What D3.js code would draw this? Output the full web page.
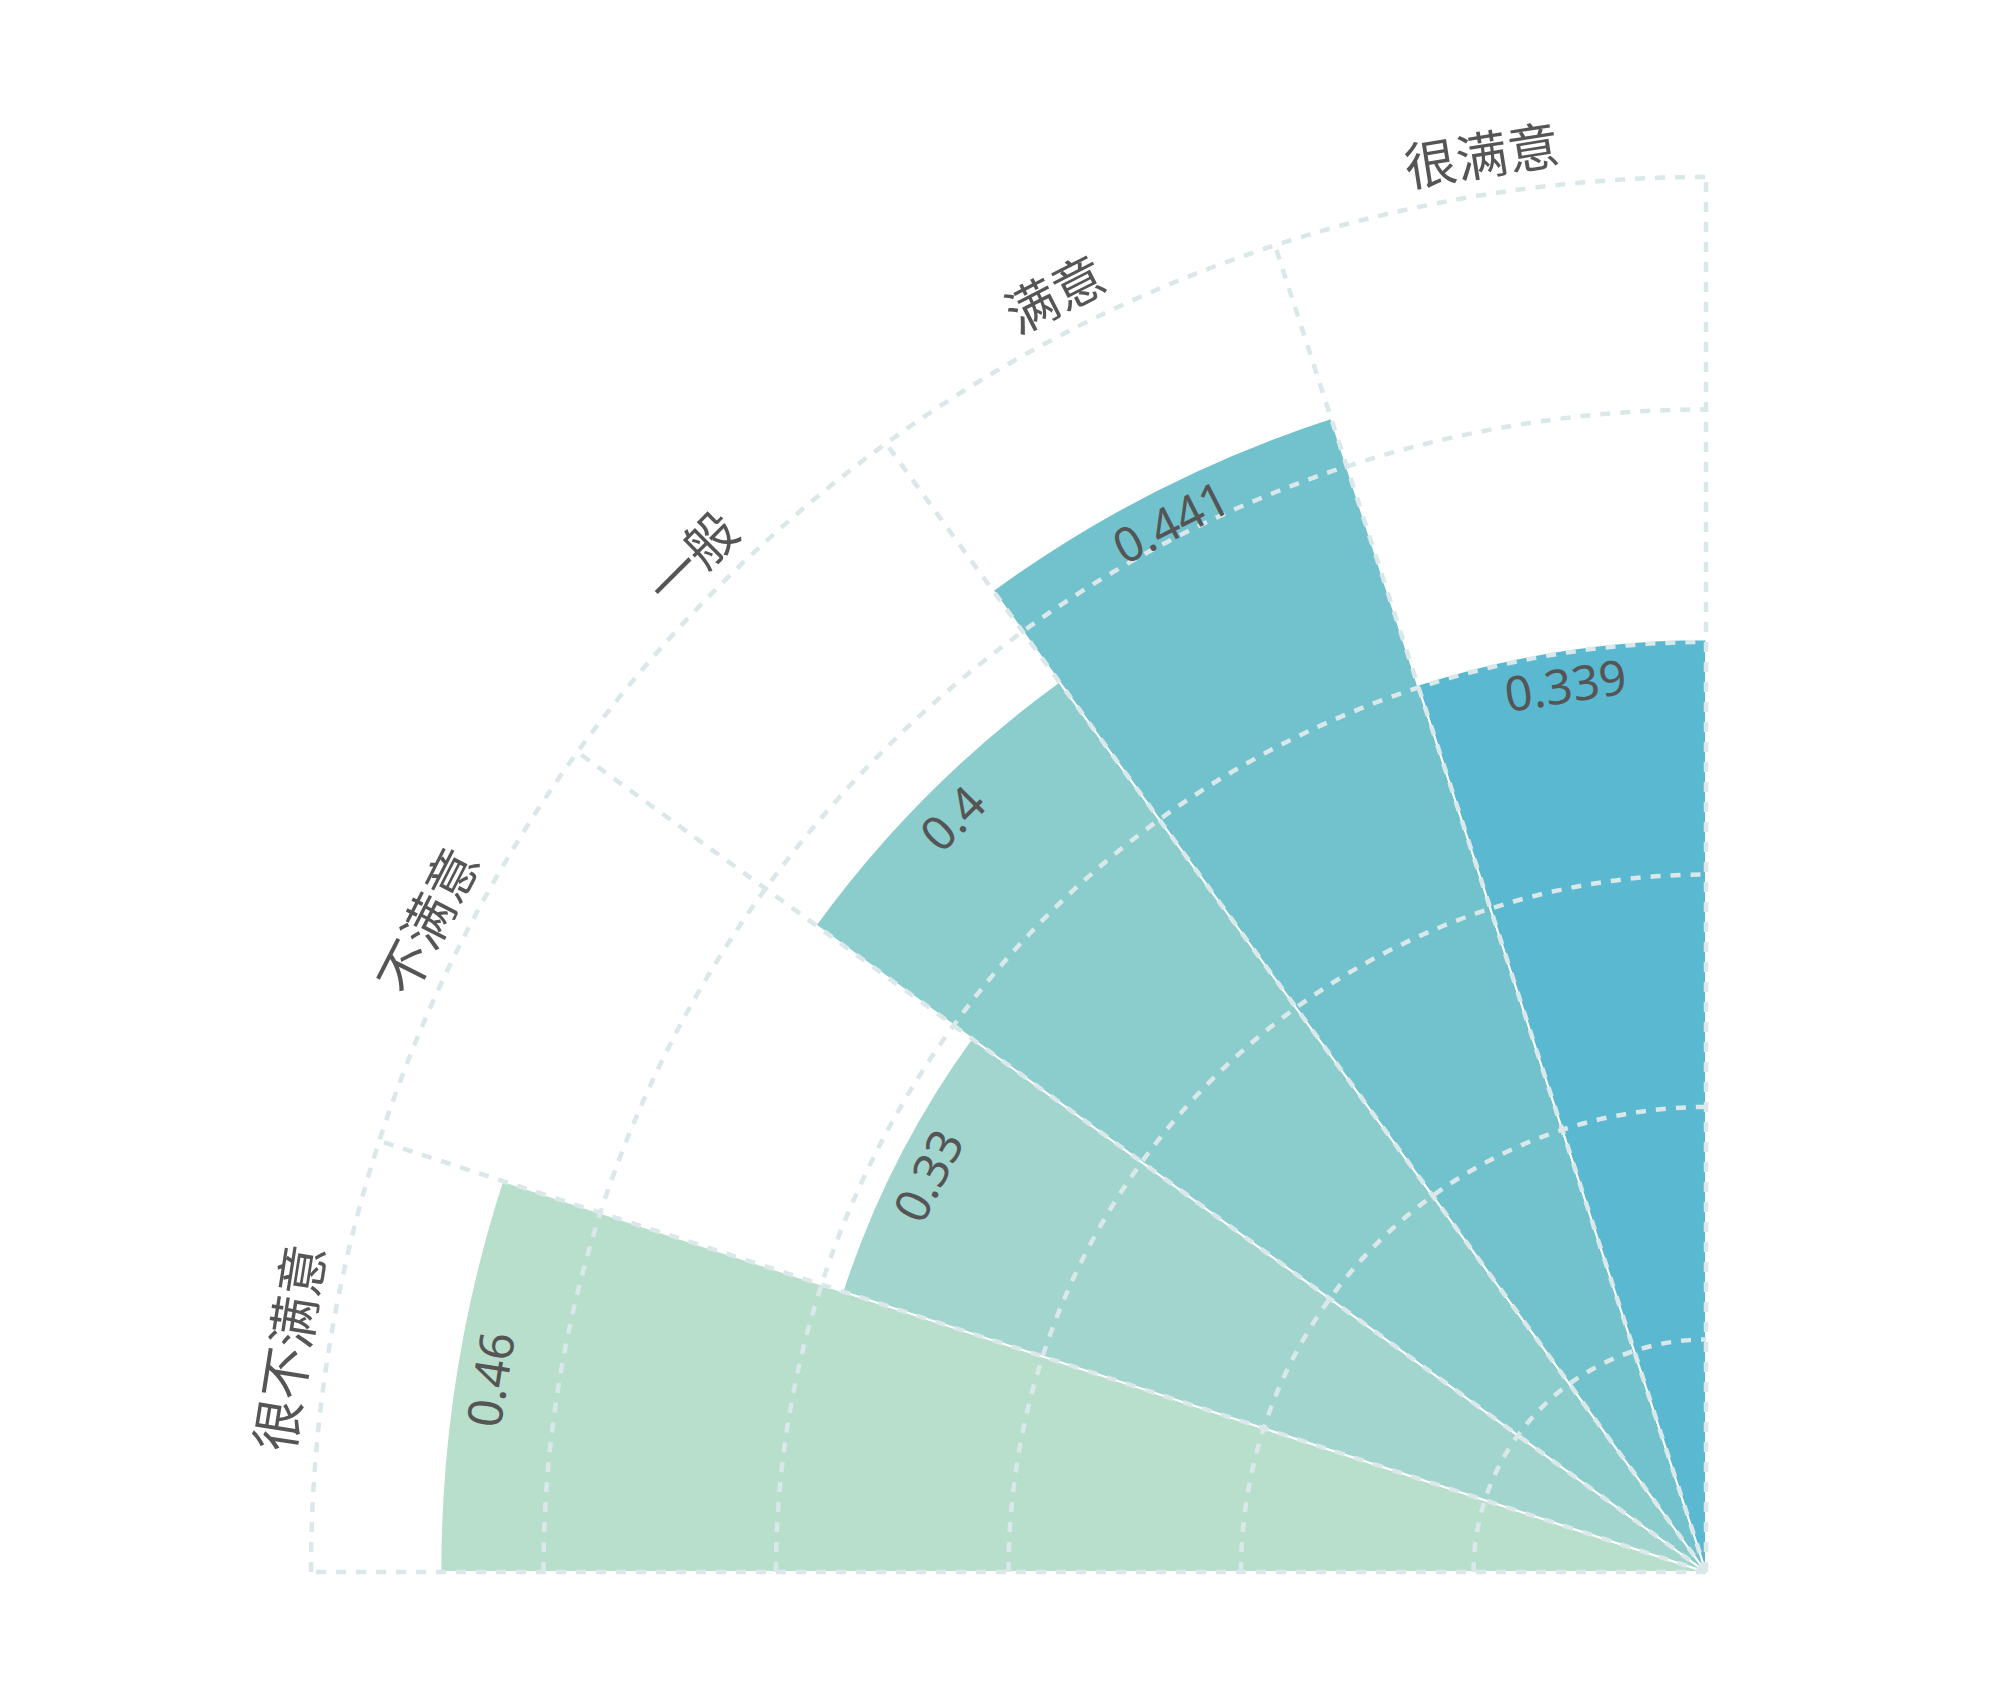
<!DOCTYPE html>
<html lang="zh">
<head>
  <meta charset="UTF-8">
  <title>满意度玫瑰图</title>
  <script src="https://d3js.org/d3.v7.min.js"></script>
  <style>
    body { margin: 0; background: #fff; }
    svg { display: block; }
    text { fill: #555; }
    .cat { font-family: "Noto Sans CJK SC", sans-serif; }
    .val { font-family: "Noto Sans", "Noto Sans CJK SC", sans-serif; }
    .grid { fill: none; stroke: #dae8ea; stroke-width: 4.5; stroke-dasharray: 10 10; }
    .bar { stroke: #fff; stroke-width: 2; }
  </style>
</head>
<body>
  <svg width="2000" height="1698"></svg>

  <script>
    // data
    const categories = ["很不满意", "不满意", "一般", "满意", "很满意"];
    const values     = [0.46, 0.33, 0.4, 0.441, 0.339];
    const colors     = ["#b8dfcc", "#a2d5cd", "#8bcccc", "#72c2cd", "#5ab8d1"];
    const rMax       = 0.507;   // radial axis extent
    const ringCount  = 6;

    const svg = d3.select("svg"),
          cx = 1706, cy = 1572,
          R  = 1395,
          g  = svg.append("g").attr("transform", `translate(${cx},${cy})`);

    // angle 0 = up, clockwise; quarter from left (-90deg) to top (0deg)
    const angle = d3.scaleBand()
                    .domain(categories)
                    .range([-Math.PI / 2, 0])
                    .padding(0);
    const radius = d3.scaleLinear()
                     .domain([0, rMax])
                     .range([0, R]);

    const rows = categories.map((c, i) => ({ cat: c, value: values[i], color: colors[i] }));

    const arc = d3.arc()
                  .innerRadius(0)
                  .outerRadius(d => radius(d.value))
                  .startAngle(d => angle(d.cat))
                  .endAngle(d => angle(d.cat) + angle.bandwidth());

    g.selectAll("path.bar")
     .data(rows)
     .enter().append("path")
       .attr("class", "bar")
       .attr("fill", d => d.color)
       .attr("d", arc);

    // dashed rings
    const ringVals = d3.range(1, ringCount + 1).map(i => i * rMax / ringCount);
    g.selectAll("path.ring")
     .data(ringVals)
     .enter().append("path")
       .attr("class", "grid ring")
       .attr("d", d => {
         const r = radius(d);
         return `M${-r},0A${r},${r} 0 0 1 0,${-r}`;
       });

    // dashed spokes at sector boundaries
    const spokes = categories.map(c => angle(c)).concat([0]);
    g.selectAll("line.spoke")
     .data(spokes)
     .enter().append("line")
       .attr("class", "grid spoke")
       .attr("x1", 0).attr("y1", 0)
       .attr("x2", a => R * Math.sin(a))
       .attr("y2", a => -R * Math.cos(a));

    const mid = c => angle(c) + angle.bandwidth() / 2;
    const deg = a => a * 180 / Math.PI;

    // category labels outside
    g.selectAll("text.cat")
     .data(rows)
     .enter().append("text")
       .attr("class", "cat")
       .attr("text-anchor", "middle")
       .attr("dominant-baseline", "central")
       .attr("font-size", 52)
       .attr("transform", d => {
         const a = mid(d.cat), r = R + 42;
         return `translate(${r * Math.sin(a)},${-r * Math.cos(a)}) rotate(${deg(a)})`;
       })
       .text(d => d.cat);

    // value labels inside the outer edge
    g.selectAll("text.val")
     .data(rows)
     .enter().append("text")
       .attr("class", "val")
       .attr("text-anchor", "middle")
       .attr("dominant-baseline", "central")
       .attr("font-size", 48)
       .attr("transform", d => {
         const a = mid(d.cat), r = radius(d.value) - 34;
         return `translate(${r * Math.sin(a)},${-r * Math.cos(a)}) rotate(${deg(a)})`;
       })
       .text(d => d.value);
  </script>
</body>
</html>
